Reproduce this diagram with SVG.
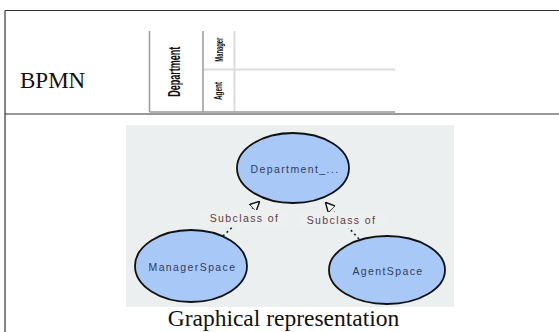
<svg xmlns="http://www.w3.org/2000/svg" width="559" height="332" viewBox="0 0 559 332">
  <style>
    .rule { stroke: #333; stroke-width: 1.2; fill: none; }
    .lane { stroke: #9a9a9a; stroke-width: 1.5; fill: none; }
    .lane-soft { stroke: #dcdcdc; stroke-width: 2; fill: none; }
    .serif { font-family: "Liberation Serif", "Times New Roman", serif; fill: #111; }
    .lane-label { font-family: "Liberation Sans", Arial, sans-serif; font-weight: bold; fill: #111; }
    .node { fill: #a8c8f7; stroke: #111; stroke-width: 1.8; }
    .node-text { font-family: "Liberation Sans", Arial, sans-serif; font-size: 10.5px; letter-spacing: 1.4px; fill: #333d58; text-anchor: middle; }
    .edge { stroke: #222; stroke-width: 1.6; stroke-dasharray: 2 3; fill: none; }
    .edge-label { font-family: "Liberation Sans", Arial, sans-serif; font-size: 10.5px; letter-spacing: 1.4px; fill: #5a3e3e; text-anchor: middle; }
  </style>
  <defs>
    <marker id="subclass-head" viewBox="0 0 10 10" refX="9" refY="5" markerWidth="10" markerHeight="10" markerUnits="userSpaceOnUse" orient="auto">
      <path d="M0,0 L10,5 L0,10 Z" fill="#f4f6f6" stroke="#111" stroke-width="1.4"/>
    </marker>
  </defs>

  <rect width="559" height="332" fill="#ffffff"/>

  <!-- table rules -->
  <g id="table">
    <line class="rule" x1="5" y1="10.5" x2="559" y2="10.5"/>
    <line class="rule" x1="5" y1="10.5" x2="5" y2="332"/>
    <line class="rule" x1="5" y1="114" x2="559" y2="114"/>
    <text class="serif" x="20" y="88" font-size="23">BPMN</text>
    <text class="serif" x="283.5" y="326" font-size="23.5" text-anchor="middle">Graphical representation</text>
  </g>

  <!-- BPMN pool with two lanes -->
  <g id="pool">
    <line class="lane-soft" x1="203" y1="69.5" x2="395" y2="69.5"/>
    <line class="lane" x1="149.5" y1="31" x2="149.5" y2="112"/>
    <line class="lane" x1="203" y1="31" x2="203" y2="112"/>
    <line class="lane-soft" x1="234.5" y1="31" x2="234.5" y2="112"/>
    <line class="lane" x1="149.5" y1="112" x2="395" y2="112" stroke="#aaa"/>
    <text class="lane-label" transform="translate(180,71.7) rotate(-90)" font-size="16" text-anchor="middle" textLength="50" lengthAdjust="spacingAndGlyphs">Department</text>
    <text class="lane-label" transform="translate(222.5,49.7) rotate(-90)" font-size="10.5" text-anchor="middle" textLength="24" lengthAdjust="spacingAndGlyphs">Manager</text>
    <text class="lane-label" transform="translate(221.5,91) rotate(-90)" font-size="10.5" text-anchor="middle" textLength="18" lengthAdjust="spacingAndGlyphs">Agent</text>
  </g>

  <!-- ontology panel -->
  <rect id="panel" x="126" y="125" width="328" height="182" fill="#eceff0"/>

  <g id="connectors">
    <line class="edge" x1="223" y1="236" x2="259" y2="202" marker-end="url(#subclass-head)"/>
    <line class="edge" x1="359" y1="239" x2="326" y2="203" marker-end="url(#subclass-head)"/>
    <rect x="200" y="210" width="88" height="16" fill="#eef0f0"/>
    <rect x="298" y="212" width="88" height="16" fill="#eef0f0"/>
    <text class="edge-label" x="244.5" y="221.5">Subclass of</text>
    <text class="edge-label" x="341.5" y="223.5">Subclass of</text>
  </g>

  <g id="department">
    <ellipse class="node" cx="293" cy="168" rx="56" ry="35"/>
    <text class="node-text" x="295" y="173">Department_...</text>
  </g>
  <g id="manager-space">
    <ellipse class="node" cx="191" cy="266" rx="56" ry="36"/>
    <text class="node-text" x="192.5" y="270.5">ManagerSpace</text>
  </g>
  <g id="agent-space">
    <ellipse class="node" cx="387" cy="270" rx="58" ry="34"/>
    <text class="node-text" x="388" y="274.5">AgentSpace</text>
  </g>
</svg>
